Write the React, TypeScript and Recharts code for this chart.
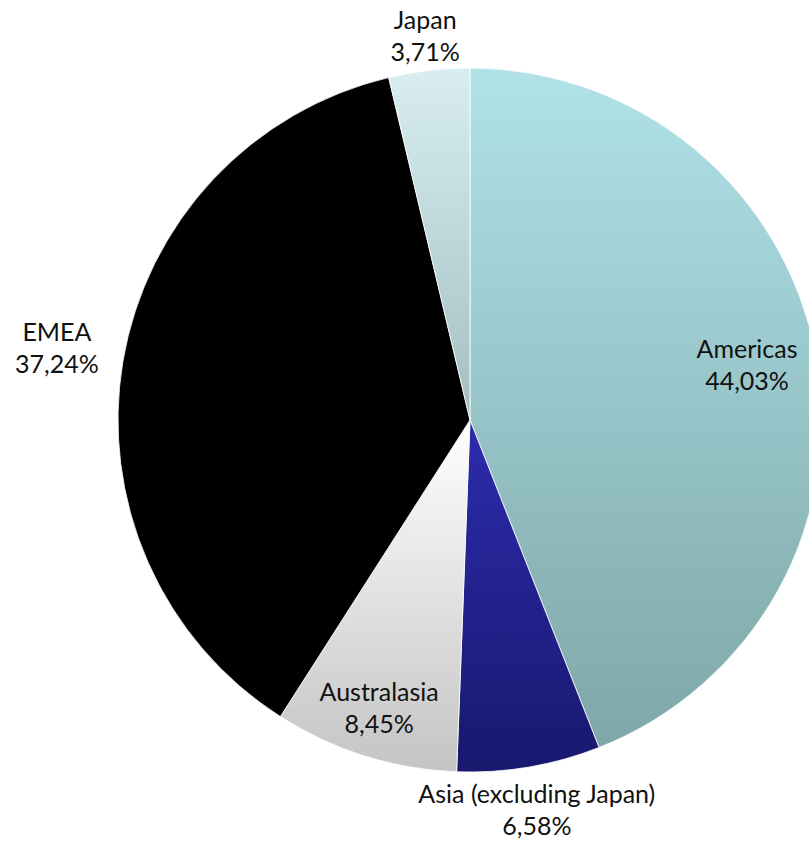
import { PieChart, Pie, Cell } from 'recharts';

const regions = ['Americas', 'Asia (excluding Japan)', 'Australasia', 'EMEA', 'Japan'];
const shares = [44.03, 6.58, 8.45, 37.24, 3.71];
const shareLabels = ['44,03%', '6,58%', '8,45%', '37,24%', '3,71%'];

const data = regions.map((name, i) => ({ name, value: shares[i], label: shareLabels[i] }));

// top / bottom colour of each slice gradient
const gradients: [string, string][] = [
  ['#b0e2e8', '#7ea7a8'],
  ['#2c2cae', '#18186e'],
  ['#ffffff', '#c4c4c4'],
  ['#000000', '#000000'],
  ['#d8eef1', '#a3bec2'],
];

// how far each label sits from the rim (negative = inside the slice)
const labelOffset: Record<string, number> = {
  Americas: -70,
  'Asia (excluding Japan)': 46,
  Australasia: -48,
  EMEA: 67,
  Japan: 33,
};

const RADIAN = Math.PI / 180;

function renderLabel(props: any) {
  const { cx, cy, midAngle, outerRadius, name, payload } = props;
  const r = outerRadius + (labelOffset[name] ?? 20);
  const x = cx + r * Math.cos(-midAngle * RADIAN);
  const y = cy + r * Math.sin(-midAngle * RADIAN);
  return (
    <text
      x={x}
      y={y}
      textAnchor="middle"
      fill="#111"
      fontSize={25}
      fontFamily="Lato, 'Open Sans', sans-serif"
    >
      <tspan x={x} dy={-9}>{name}</tspan>
      <tspan x={x} dy={32}>{payload.label}</tspan>
    </text>
  );
}

export default function App() {
  return (
    <div style={{ position: 'absolute', left: 0, top: 0, width: 809, height: 843, background: '#fff', overflow: 'hidden' }}>
      <PieChart width={809} height={843} margin={{ top: 0, right: 0, bottom: 0, left: 0 }}>
        <defs>
          {gradients.map(([top, bottom], i) => (
            <linearGradient key={i} id={`slice${i}`} x1="0" y1="0" x2="0" y2="1">
              <stop offset="0%" stopColor={top} />
              <stop offset="100%" stopColor={bottom} />
            </linearGradient>
          ))}
        </defs>
        <Pie
          data={data}
          dataKey="value"
          nameKey="name"
          cx={470}
          cy={420}
          outerRadius={352}
          startAngle={90}
          endAngle={-270}
          stroke="#ffffff"
          strokeWidth={0.8}
          label={renderLabel}
          labelLine={false}
          isAnimationActive={false}
        >
          {data.map((d, i) => (
            <Cell key={d.name} fill={`url(#slice${i})`} />
          ))}
        </Pie>
      </PieChart>
    </div>
  );
}
